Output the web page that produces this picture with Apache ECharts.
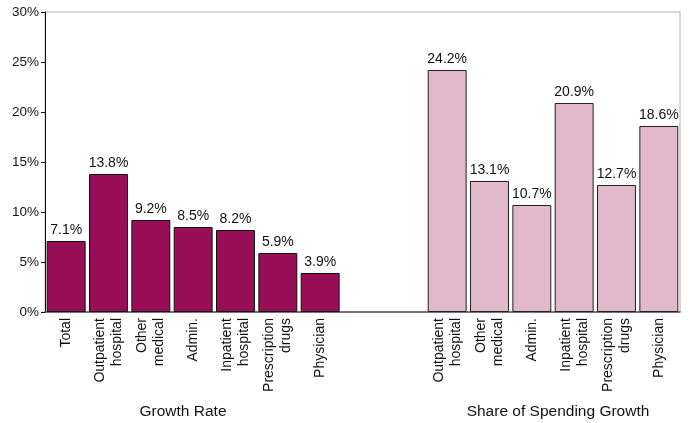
<!DOCTYPE html>
<html>
<head>
<meta charset="utf-8">
<script src="https://cdn.jsdelivr.net/npm/echarts@6/dist/echarts.min.js"></script>
<style>
  html, body { margin: 0; padding: 0; background: #fff; }
  #chart { width: 689px; height: 423px; }
</style>
</head>
<body>
<div id="chart"></div>
<script>
const growthCats = ['Total', 'Outpatient\nhospital', 'Other\nmedical', 'Admin.', 'Inpatient\nhospital', 'Prescription\ndrugs', 'Physician'];
const growthVals = [7.1, 13.8, 9.2, 8.5, 8.2, 5.9, 3.9];
const shareCats = ['Outpatient\nhospital', 'Other\nmedical', 'Admin.', 'Inpatient\nhospital', 'Prescription\ndrugs', 'Physician'];
const shareVals = [24.2, 13.1, 10.7, 20.9, 12.7, 18.6];
const spacer = ['', ''];

const categories = growthCats.concat(spacer, shareCats);
const growthData = growthVals.concat(spacer.map(() => null), shareCats.map(() => null));
const shareData = growthCats.map(() => null).concat(spacer.map(() => null), shareVals);

const font = 'Liberation Sans, Arial, sans-serif';
const chart = echarts.init(document.getElementById('chart'));

const labelStyle = {
  show: true,
  position: 'top',
  distance: 4,
  formatter: '{c}%',
  fontFamily: font,
  fontSize: 14,
  color: '#111'
};

chart.setOption({
  animation: false,
  grid: {
    left: 45, right: 9, top: 12, bottom: 111,
    show: true, borderColor: '#b0b0b0', borderWidth: 1
  },
  xAxis: {
    type: 'category',
    data: categories,
    axisLine: { lineStyle: { color: '#555', width: 1.5 } },
    axisTick: { show: false },
    axisLabel: {
      rotate: 90,
      interval: 0,
      margin: 6,
      fontFamily: font,
      fontSize: 14,
      lineHeight: 17,
      color: '#111'
    }
  },
  yAxis: {
    type: 'value',
    min: 0, max: 30, interval: 5,
    axisLine: { show: true, lineStyle: { color: '#111', width: 1 } },
    axisTick: { show: true, length: 4, lineStyle: { color: '#111' } },
    splitLine: { show: false },
    axisLabel: {
      formatter: '{value}%',
      margin: 6,
      fontFamily: font,
      fontSize: 13.5,
      color: '#111'
    }
  },
  series: [
    {
      type: 'bar',
      data: growthData,
      barCategoryGap: '8%',
      barGap: '-100%',
      itemStyle: { color: '#990f57', borderColor: '#111', borderWidth: 1 },
      label: labelStyle
    },
    {
      type: 'bar',
      data: shareData,
      barCategoryGap: '8%',
      barGap: '-100%',
      itemStyle: { color: '#e1b9cb', borderColor: '#222', borderWidth: 1 },
      label: labelStyle
    }
  ],
  graphic: [
    {
      type: 'text', x: 183, y: 412,
      style: { text: 'Growth Rate', fontFamily: font, fontSize: 15.5, fill: '#111', textAlign: 'center', textVerticalAlign: 'middle' }
    },
    {
      type: 'text', x: 558, y: 412,
      style: { text: 'Share of Spending Growth', fontFamily: font, fontSize: 15.5, fill: '#111', textAlign: 'center', textVerticalAlign: 'middle' }
    }
  ]
});
</script>
</body>
</html>
